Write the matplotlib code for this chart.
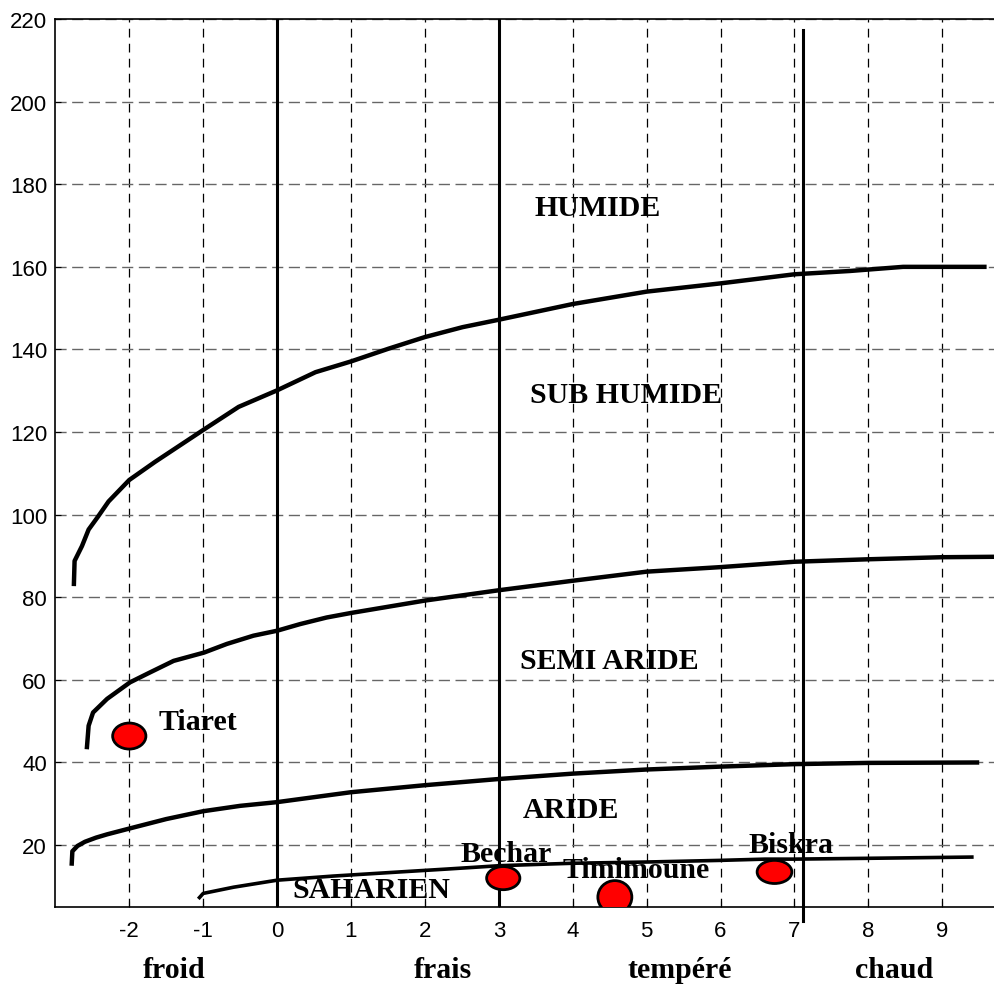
import numpy as np
import matplotlib
matplotlib.use("Agg")
import matplotlib.pyplot as plt
from matplotlib.patches import Ellipse

# Emberger climagram: x = m (deg C), y = Q2

# boundary curves
humide_x = [-2.75, -2.74, -2.64, -2.55, -2.42, -2.28, -2.0, -1.65, -1.0, -0.52, 0.0, 0.52,
            1.0, 1.51, 2.0, 2.51, 3.0, 4.0, 5.0, 6.0, 7.0, 7.75, 8.47, 9.6]
humide_y = [82.7, 88.8, 92.4, 96.4, 99.6, 103.2, 108.4, 112.8, 120.5, 126.1, 130.1, 134.5,
            137.1, 140.2, 143.0, 145.4, 147.2, 151.0, 154.0, 156.0, 158.2, 159.0, 160.0, 160.0]

subhum_x = [-2.575, -2.55, -2.49, -2.30, -1.99, -1.72, -1.40, -0.99, -0.68, -0.32, 0.0,
            0.31, 0.67, 1.0, 2.0, 3.0, 4.0, 5.0, 6.0, 7.0, 8.0, 9.0, 9.7]
subhum_y = [43.2, 48.9, 52.1, 55.4, 59.4, 61.8, 64.6, 66.6, 68.7, 70.7, 71.9,
            73.5, 75.1, 76.2, 79.2, 81.7, 84.0, 86.2, 87.3, 88.6, 89.2, 89.7, 89.8]

semiar_x = [-2.78, -2.77, -2.7, -2.6, -2.45, -2.3, -2.0, -1.5, -1.0, -0.5, 0.0, 1.0, 2.0,
            3.0, 4.0, 5.0, 6.0, 7.0, 8.0, 9.5]
semiar_y = [15.0, 18.5, 19.8, 20.8, 21.8, 22.6, 24.0, 26.3, 28.2, 29.5, 30.4, 32.8, 34.5,
            36.0, 37.3, 38.3, 39.0, 39.6, 39.9, 40.0]

aride_x = [-1.05, -1.0, -0.59, 0.0, 0.76, 1.66, 2.3, 3.0, 3.65, 4.0, 5.0, 6.0, 6.6, 7.0,
           8.0, 9.4]
aride_y = [7.3, 8.3, 9.8, 11.5, 12.5, 13.5, 14.2, 15.0, 15.4, 15.6, 15.9, 16.3, 16.6,
           16.6, 16.8, 17.1]

# thermal boundaries (vertical lines)
vline_x = [0.0, 3.0, 7.12]

# stations
stations = ["Tiaret", "Bechar", "Timimoune", "Biskra"]
station_x = [-2.0, 3.06, 4.57, 6.73]
station_y = [46.4, 12.0, 7.4, 13.5]
label_x = [-1.07, 3.10, 4.86, 6.96]
label_y = [48.1, 16.1, 12.3, 18.3]

# bioclimatic zones
zones = ["HUMIDE", "SUB HUMIDE", "SEMI ARIDE", "ARIDE", "SAHARIEN"]
zone_x = [4.34, 4.72, 4.49, 3.98, 1.27]
zone_y = [172.5, 127.3, 62.9, 26.8, 7.4]

# winter variants under the axis
variants = ["froid", "frais", "tempéré", "chaud"]
variant_x = [-1.39, 2.24, 5.45, 8.35]

xticks = list(range(-2, 10))
yticks = list(range(20, 221, 20))

plt.rcParams["axes.unicode_minus"] = False

fig = plt.figure(figsize=(9.94, 9.87), dpi=100)
ax = fig.add_axes([0.0557, 0.080, 0.9443, 0.8997])
ax.set_xlim(-3.0, 9.7)
ax.set_ylim(5.0, 220.0)

ax.set_xticks(xticks)
ax.set_yticks(yticks)
ax.tick_params(direction="in", length=4, width=0.8, labelsize=16, pad=6)
ax.tick_params(axis="x", pad=9)
for lab in ax.get_xticklabels() + ax.get_yticklabels():
    lab.set_family("Liberation Sans")

ax.xaxis.grid(True, color="black", linestyle=(0, (7, 5)), linewidth=0.9)
ax.yaxis.grid(True, color="0.4", linestyle=(0, (8, 4)), linewidth=1.0)
ax.set_axisbelow(True)
for s in ["left", "bottom", "top"]:
    ax.spines[s].set_linewidth(1.2)
ax.spines["right"].set_visible(False)

curve_kw = dict(color="black", linewidth=3.2, solid_capstyle="butt",
                solid_joinstyle="round", zorder=3)
ax.plot(humide_x, humide_y, **curve_kw)
ax.plot(subhum_x, subhum_y, **curve_kw)
ax.plot(semiar_x, semiar_y, **curve_kw)
ax.plot(aride_x, aride_y, color="black", linewidth=2.6, solid_joinstyle="round", zorder=3)

ax.plot([vline_x[0]] * 2, [5.0, 220.0], color="black", lw=2.2, zorder=3)
ax.plot([vline_x[1]] * 2, [5.0, 220.0], color="black", lw=2.2, zorder=3)
ax.plot([vline_x[2]] * 2, [1.6, 217.3], color="black", lw=2.2, zorder=3, clip_on=False)

# dot sizes in data units (width, height)
dot_w = [0.45, 0.45, 0.46, 0.47]
dot_h = [6.3, 5.6, 8.0, 5.6]
for x, y, w, h in zip(station_x, station_y, dot_w, dot_h):
    ax.add_patch(Ellipse((x, y), w, h, facecolor="red", edgecolor="black",
                         linewidth=2.0, zorder=4))

serif = dict(family="Liberation Serif", fontweight="bold", fontsize=21.5,
             ha="center", va="baseline", zorder=5)
for name, x, y in zip(stations, label_x, label_y):
    ax.text(x, y, name, **serif)
for name, x, y in zip(zones, zone_x, zone_y):
    ax.text(x, y, name, **serif)
for name, x in zip(variants, variant_x):
    ax.text(x, -0.0788, name, transform=ax.get_xaxis_transform(), clip_on=False, **serif)

fig.savefig("out.png", dpi=100)
